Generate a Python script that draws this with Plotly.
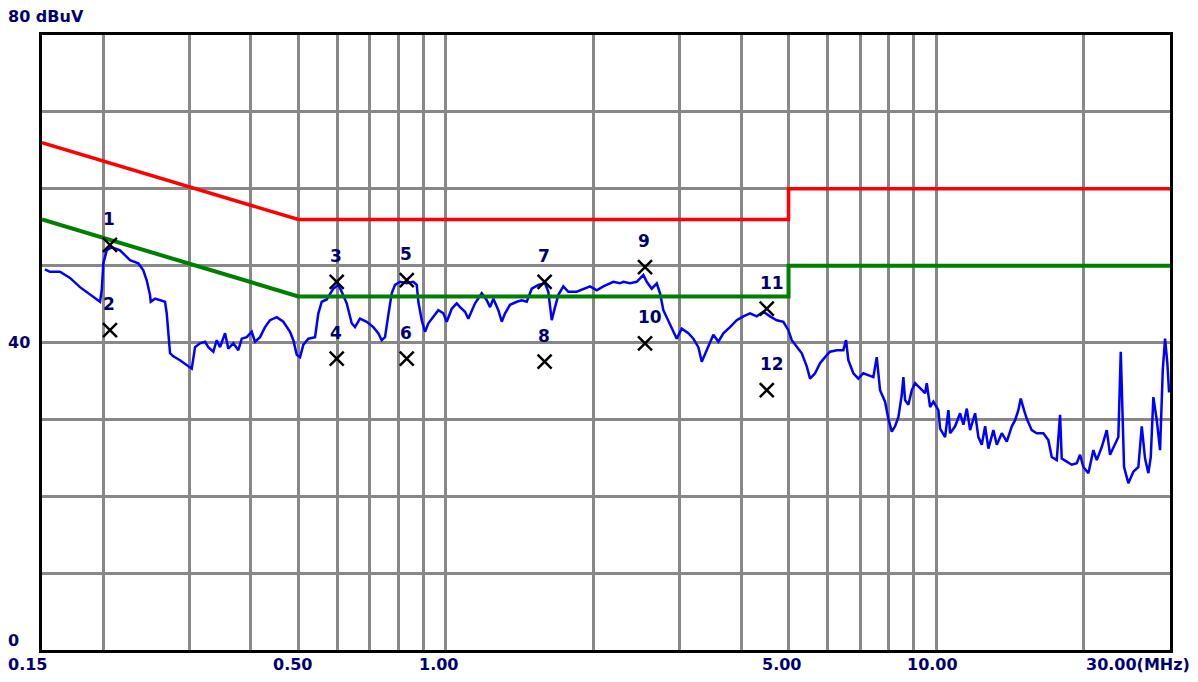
import numpy as np
import plotly.graph_objects as go

# ---- data (MHz, dBuV) ----
trace_f = [0.1521, 0.1557, 0.1632, 0.1711, 0.1793, 0.1880, 0.1970, 0.1986, 0.2001, 0.2033,
           0.2081, 0.2164, 0.2268, 0.2358, 0.2414, 0.2453, 0.2491, 0.2500, 0.2551, 0.2673,
           0.2695, 0.2737, 0.2780, 0.2868, 0.2960, 0.3031, 0.3078, 0.3151, 0.3226, 0.3276,
           0.3354, 0.3408, 0.3462, 0.3544, 0.3599, 0.3685, 0.3772, 0.3833, 0.3924, 0.4017,
           0.4080, 0.4177, 0.4276, 0.4377, 0.4518, 0.4660, 0.4809, 0.4884, 0.4963, 0.5040,
           0.5119, 0.5241, 0.5409, 0.5493, 0.5582, 0.5714, 0.5894, 0.6033, 0.6130, 0.6276,
           0.6425, 0.6525, 0.6680, 0.6894, 0.7111, 0.7280, 0.7397, 0.7513, 0.7631, 0.7754,
           0.7875, 0.8062, 0.8320, 0.8582, 0.8720, 0.8786, 0.8927, 0.9067, 0.9209, 0.9427,
           0.9651, 0.9880, 1.0040, 1.0278, 1.0522, 1.0687, 1.0941, 1.1112, 1.1468, 1.1834,
           1.2116, 1.2305, 1.2498, 1.2794, 1.3001, 1.3204, 1.3517, 1.3950, 1.4281, 1.4620,
           1.4965, 1.5437, 1.5930, 1.6179, 1.6440, 1.6697, 1.6958, 1.7361, 1.7773, 1.8488,
           1.9223, 1.9683, 2.0312, 2.0951, 2.1958, 2.2661, 2.3015, 2.3751, 2.4510, 2.5281,
           2.5689, 2.6299, 2.6923, 2.7344, 2.7773, 2.8432, 2.9107, 2.9576, 3.0277, 3.1232,
           3.1974, 3.2733, 3.3260, 3.4050, 3.5123, 3.5957, 3.6810, 3.7986, 3.9201, 4.0436,
           4.1730, 4.3065, 4.4423, 4.5845, 4.7312, 4.8803, 4.9962, 5.0766, 5.1971, 5.3205,
           5.4468, 5.5320, 5.6634, 5.7978, 5.9355, 6.0765, 6.2709, 6.4682, 6.5508, 6.6219,
           6.7791, 6.9401, 7.1049, 7.2737, 7.4465, 7.5665, 7.6235, 7.6853, 7.8678, 7.9908,
           8.1197, 8.2470, 8.3760, 8.5110, 8.5751, 8.6439, 8.7789, 8.9204, 9.0599, 9.2751,
           9.4953, 9.5715, 9.7212, 9.8732, 10.108, 10.189, 10.431, 10.594, 10.679, 10.933,
           11.192, 11.367, 11.550, 11.731, 12.010, 12.197, 12.394, 12.588, 12.785, 13.088,
           13.299, 13.615, 13.938, 14.269, 14.492, 14.715, 14.882, 15.114, 15.307, 15.670,
           16.042, 16.548, 16.941, 17.214, 17.623, 17.900, 18.043, 18.471, 18.910, 19.359,
           19.662, 19.970, 20.445, 20.931, 21.268, 21.773, 22.290, 22.638, 23.175, 23.538,
           23.805, 23.951, 24.177, 24.669, 25.256, 25.856, 26.273, 26.684, 27.101, 27.408,
           27.744, 28.191, 28.632, 28.998, 29.313, 29.631, 29.868]
trace_db = [49.5, 49.2, 49.2, 48.4, 47.2, 46.2, 45.3, 46.8, 50.3, 52.0,
            52.4, 52.0, 50.7, 50.3, 49.4, 48.1, 46.2, 45.3, 45.7, 45.3,
            43.8, 38.6, 38.2, 37.7, 37.1, 36.6, 39.4, 39.9, 40.1, 39.4,
            38.8, 40.3, 39.4, 41.2, 39.2, 39.9, 39.0, 40.5, 40.7, 41.4,
            40.1, 40.7, 42.0, 42.9, 43.3, 42.7, 41.4, 40.3, 38.4, 38.1,
            39.7, 40.5, 40.7, 43.8, 45.3, 45.6, 47.0, 47.5, 46.6, 45.1,
            42.5, 42.0, 43.1, 42.7, 42.0, 41.2, 40.3, 40.7, 43.6, 46.4,
            47.5, 47.9, 47.7, 47.9, 47.5, 45.3, 42.9, 41.4, 42.5, 43.4,
            44.2, 43.8, 42.7, 44.4, 45.1, 44.6, 44.0, 43.1, 45.1, 46.4,
            45.5, 44.6, 45.7, 44.2, 42.7, 43.8, 44.9, 45.3, 45.5, 45.3,
            47.0, 47.5, 47.7, 46.6, 42.9, 44.6, 46.2, 47.3, 46.6, 46.6,
            47.0, 47.3, 46.8, 47.3, 47.9, 47.7, 47.9, 47.7, 47.9, 48.8,
            47.9, 47.0, 47.7, 46.4, 44.2, 42.9, 41.6, 40.5, 41.8, 41.2,
            40.5, 39.4, 37.5, 39.0, 41.0, 40.1, 41.2, 42.0, 42.9, 43.4,
            43.8, 43.4, 44.0, 43.4, 42.9, 42.7, 41.6, 40.3, 39.4, 38.6,
            36.9, 35.3, 36.0, 37.3, 38.1, 38.8, 39.0, 39.0, 40.3, 37.7,
            36.0, 35.3, 36.0, 35.8, 35.5, 38.1, 35.5, 33.8, 32.3, 30.1,
            28.4, 29.1, 30.3, 33.2, 35.5, 32.5, 31.9, 33.8, 34.7, 34.0,
            33.4, 34.7, 31.6, 32.3, 31.2, 28.8, 27.7, 31.2, 28.2, 29.1,
            30.8, 29.3, 31.4, 28.6, 30.8, 27.7, 26.7, 29.1, 26.2, 28.6,
            26.7, 28.2, 27.1, 29.1, 29.9, 31.2, 32.7, 31.2, 30.1, 28.6,
            28.2, 28.2, 27.3, 25.1, 24.7, 30.6, 24.9, 24.5, 24.1, 24.3,
            25.4, 23.8, 23.0, 26.0, 24.7, 26.4, 28.6, 25.4, 26.9, 27.7,
            38.8, 31.2, 23.8, 21.7, 23.2, 23.8, 29.1, 24.9, 23.0, 25.1,
            32.9, 29.9, 26.0, 36.4, 40.5, 37.3, 33.5]

limit_f = [0.15, 0.5, 5.0, 5.0, 30.0]
qp_limit = [66, 56, 56, 60, 60]
av_limit = [56, 46, 46, 50, 50]

marker_f = [0.2064, 0.2064, 0.5988, 0.5988, 0.832, 0.832, 1.59, 1.59, 2.548, 2.548, 4.514, 4.514]
marker_db = [52.7, 41.6, 47.9, 37.9, 48.1, 37.9, 47.9, 37.5, 49.8, 39.9, 44.4, 33.8]
marker_lbl = [str(i) for i in range(1, 13)]

grid_f = [0.2, 0.3, 0.4, 0.5, 0.6, 0.7, 0.8, 0.9, 1, 2, 3, 4, 5, 6, 7, 8, 9, 10, 20]
xlab_f = [0.15, 0.5, 1, 5, 10, 30]
xlab_t = ["0.15", "0.50", "1.00", "5.00", "10.00", "30.00(MHz)"]
ylab_v = [80, 40, 0]
ylab_t = ["80 dBuV", "40", "0"]

NAVY = "#000070"
FONT = "DejaVu Sans"
FS = 16

fig = go.Figure()
fig.add_trace(go.Scatter(x=trace_f, y=trace_db, mode="lines",
                         line=dict(color="#0000ff", width=2.5), hoverinfo="skip"))
fig.add_trace(go.Scatter(x=limit_f, y=qp_limit, mode="lines",
                         line=dict(color="#ff0000", width=3.5), hoverinfo="skip"))
fig.add_trace(go.Scatter(x=limit_f, y=av_limit, mode="lines",
                         line=dict(color="#008000", width=4), hoverinfo="skip"))
fig.add_trace(go.Scatter(x=marker_f, y=marker_db, mode="markers",
                         marker=dict(symbol="x-thin", size=14, color="black",
                                     line=dict(width=2.5, color="black")),
                         hoverinfo="skip"))

ann = []
for f, d, t in zip(marker_f, marker_db, marker_lbl):
    ann.append(dict(x=np.log10(f), y=d, xref="x", yref="y", text="<b>%s</b>" % t,
                    showarrow=False, xanchor="left", yanchor="middle", xshift=-9, yshift=26,
                    font=dict(family=FONT, size=17, color=NAVY)))
xshifts = [-15, -6, -7, -7, -4, 22]
for f, t, s in zip(xlab_f, xlab_t, xshifts):
    ann.append(dict(x=np.log10(f), y=0, xref="x", yref="paper", text="<b>%s</b>" % t,
                    showarrow=False, xanchor="right" if t.endswith(")") else "center",
                    yanchor="top", xshift=s, yshift=-3,
                    font=dict(family=FONT, size=FS, color=NAVY)))
for v, t in zip(ylab_v, ylab_t):
    ys = {80: 19, 40: 0, 0: 10}[v]
    ann.append(dict(x=0, y=v, xref="paper", yref="y", text="<b>%s</b>" % t,
                    showarrow=False, xanchor="left", yanchor="middle",
                    xshift=-36, yshift=ys,
                    font=dict(family=FONT, size=FS, color=NAVY)))

fig.update_layout(
    width=1198, height=682, autosize=False,
    margin=dict(l=42, r=28, t=35, b=32),
    paper_bgcolor="white", plot_bgcolor="white",
    showlegend=False, annotations=ann,
    xaxis=dict(type="log", range=[np.log10(0.15), np.log10(30)],
               tickvals=grid_f, showticklabels=False, ticks="",
               showgrid=True, gridcolor="#888888", gridwidth=2.5,
               showline=True, linecolor="black", linewidth=2.5, mirror=True,
               zeroline=False, fixedrange=True),
    yaxis=dict(range=[0, 80], tickvals=[10, 20, 30, 40, 50, 60, 70],
               showticklabels=False, ticks="",
               showgrid=True, gridcolor="#888888", gridwidth=2.5,
               showline=True, linecolor="black", linewidth=2.5, mirror=True,
               zeroline=False, fixedrange=True),
)

fig.write_html("out.html", config={"displayModeBar": False},
               post_script="document.body.style.margin='0';document.body.style.overflow='hidden';")
